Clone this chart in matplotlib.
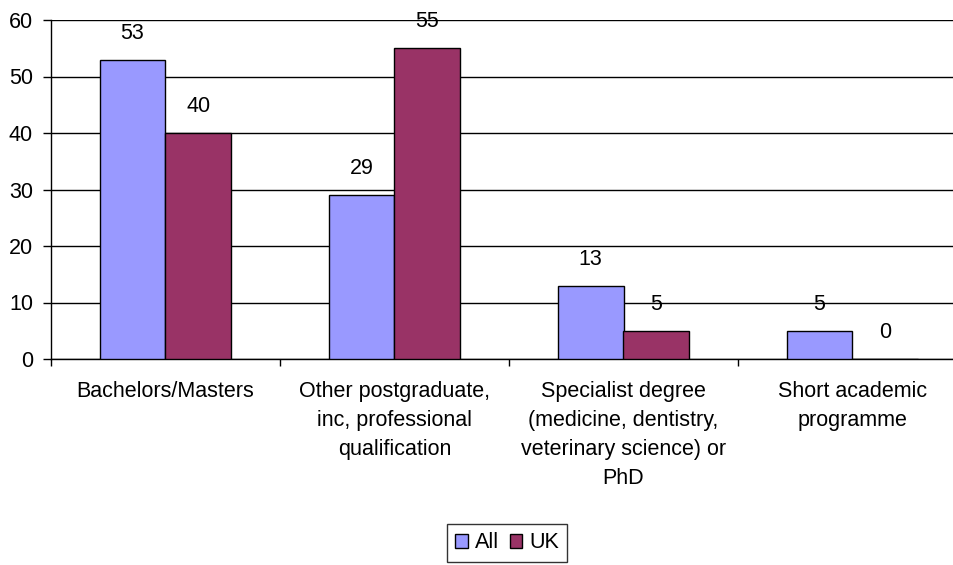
import numpy as np
import matplotlib.pyplot as plt

categories = ['Bachelors/Masters',
              'Other postgraduate,\ninc, professional\nqualification',
              'Specialist degree\n(medicine, dentistry,\nveterinary science) or\nPhD',
              'Short academic\nprogramme']
all_vals = [53, 29, 13, 5]
uk_vals = [40, 55, 5, 0]

plt.rcParams['font.family'] = ['Liberation Sans', 'DejaVu Sans']
plt.rcParams['font.size'] = 15.5

fig = plt.figure(figsize=(9.54, 5.65), dpi=100)
W, H = 954, 565
ax = fig.add_axes([51 / W, 1 - 359 / H, (967 - 51) / W, (359 - 20) / H])

x = np.arange(len(categories))
bw = 0.288
b1 = ax.bar(x - bw / 2, all_vals, bw, color='#9999FF', edgecolor='black', linewidth=1, label='All', zorder=3)
b2 = ax.bar(x + bw / 2, uk_vals, bw, color='#993366', edgecolor='black', linewidth=1, label='UK', zorder=3)

for bars, vals in ((b1, all_vals), (b2, uk_vals)):
    for b, v in zip(bars, vals):
        ax.annotate(str(v), (b.get_x() + b.get_width() / 2, v), xytext=(0, 19),
                    textcoords='offset points', ha='center', va='center')

ax.set_ylim(0, 60)
ax.set_yticks(range(0, 61, 10))
ax.set_xlim(-0.5, 3.5)
ax.yaxis.grid(True, color='black', linewidth=1, zorder=0)
ax.set_axisbelow(True)
for s in ('top', 'right'):
    ax.spines[s].set_visible(False)
ax.spines['left'].set_linewidth(1)
ax.spines['bottom'].set_linewidth(1)

ax.set_xticks(np.arange(-0.5, 4, 1))
ax.set_xticklabels([])
ax.tick_params(axis='x', direction='out', length=5, width=1)
ax.tick_params(axis='y', direction='out', length=6, width=1, pad=7)
for i, c in enumerate(categories):
    ax.text(i, -3.85, c, ha='center', va='top', linespacing=1.5,
            transform=ax.transData)

leg = fig.legend(loc='center', bbox_to_anchor=(507 / W, 1 - 543 / H), ncol=2,
                 frameon=True, fancybox=False, edgecolor='black', handlelength=0.6,
                 handleheight=0.6, handletextpad=0.3, columnspacing=0.5,
                 borderpad=0.4, borderaxespad=0)
leg.get_frame().set_linewidth(1)

plt.savefig('out.png', dpi=100)
